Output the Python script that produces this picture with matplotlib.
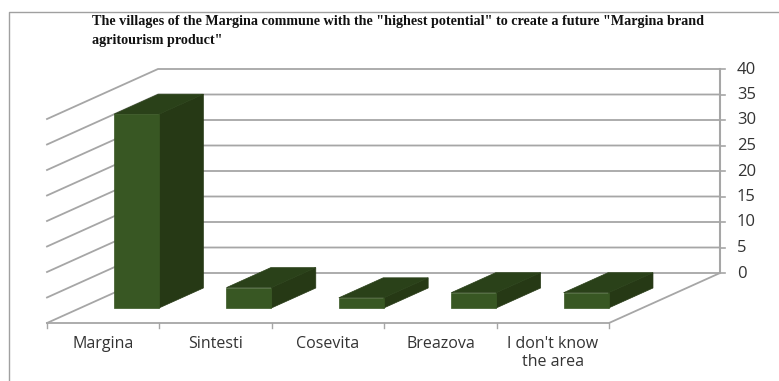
import matplotlib.pyplot as plt
from matplotlib.patches import Polygon

categories = ["Margina", "Sintesti", "Cosevita", "Breazova", "I don't know\nthe area"]
values = [38, 4, 2, 3, 3]
y_ticks = [0, 5, 10, 15, 20, 25, 30, 35, 40]

title = ('The villages of the Margina commune with the "highest potential" to create a future "Margina brand\n'
         'agritourism product"')

# floor geometry of the 3D box, in pixels
X0, Y0 = 47, 323
CAT_W = 112.4
DEPTH_X, DEPTH_Y = 111, 50
UNIT = 5.1

GRID = "#a6a6a6"
FRONT = "#385723"
TOP = "#2a4119"
SIDE = "#263915"


def proj(cat, depth, val):
    return (X0 + cat * CAT_W + depth * DEPTH_X, Y0 - depth * DEPTH_Y - val * UNIT)


fig = plt.figure(figsize=(7.79, 3.81), dpi=100)
ax = fig.add_axes([0, 0, 1, 1])
ax.set_xlim(0, 779)
ax.set_ylim(381, 0)
ax.axis("off")

# chart border, only top and left are visible
ax.plot([779, 9.5, 9.5], [11.5, 11.5, 381], color="#a0a0a0", lw=1)

n = len(categories)

# gridlines along the side wall and back wall
for t in y_ticks:
    ax.plot(*zip(proj(0, 0, t), proj(0, 1, t), proj(n, 1, t)), color=GRID, lw=1.3, zorder=1)
    end = proj(n, 1, t)
    ax.plot([end[0], end[0] + 5], [end[1], end[1]], color=GRID, lw=1.2, zorder=1)
    ax.text(end[0] + 17, end[1] + 0.5, str(t), ha="left", va="center",
            fontsize=12, color="#333333", family="Open Sans")

# value axis and floor edges
ax.plot(*zip(proj(n, 1, 0), proj(n, 1, y_ticks[-1])), color=GRID, lw=1.5, zorder=1)
ax.plot(*zip(proj(0, 0, 0), proj(n, 0, 0), proj(n, 1, 0)), color=GRID, lw=1.3, zorder=1)
for c in range(n + 1):
    x, y = proj(c, 0, 0)
    ax.plot([x, x], [y, y + 5], color=GRID, lw=1, zorder=1)

# columns
for c, v in enumerate(values):
    l, r = c + 0.30, c + 0.70
    d0, d1 = 0.3, 0.7
    ax.add_patch(Polygon([proj(r, d0, 0), proj(r, d1, 0), proj(r, d1, v), proj(r, d0, v)],
                         fc=SIDE, ec=SIDE, lw=0.5, zorder=3))
    ax.add_patch(Polygon([proj(l, d0, v), proj(r, d0, v), proj(r, d1, v), proj(l, d1, v)],
                         fc=TOP, ec=TOP, lw=0.5, zorder=3))
    ax.add_patch(Polygon([proj(l, d0, 0), proj(r, d0, 0), proj(r, d0, v), proj(l, d0, v)],
                         fc=FRONT, ec=FRONT, lw=0.5, zorder=3))

# category labels
for c, name in enumerate(categories):
    x, y = proj(c + 0.5, 0, 0)
    ax.text(x, y + 13, name, ha="center", va="top", fontsize=11.5, color="#333333",
            family="Open Sans", linespacing=1.2)

ax.text(92, 15.5, title, ha="left", va="top", fontsize=10.15, fontweight="bold",
        family="Liberation Serif", color="#111111", linespacing=1.55)

fig.savefig("out.png", dpi=100)
